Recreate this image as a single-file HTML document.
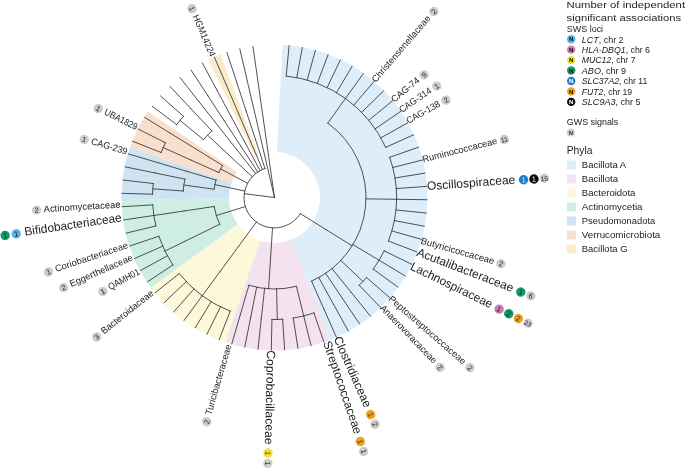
<!DOCTYPE html>
<html><head><meta charset="utf-8"><style>
html,body{margin:0;padding:0;background:#fff;}
svg{display:block;will-change:transform;font-family:"Liberation Sans",sans-serif;}

</style></head><body>
<svg width="685" height="469" viewBox="0 0 685 469" fill="#222">
<rect width="685" height="469" fill="#fff"/>
<path d="M282.48 44.71A153 153 0 0 1 330.3 339.96L291.09 239.87A45.5 45.5 0 0 0 276.87 152.06Z" fill="#ddedf9"/>
<path d="M330.3 339.96A153 153 0 0 1 225.27 342.36L259.86 240.58A45.5 45.5 0 0 0 291.09 239.87Z" fill="#f4e2ee"/>
<path d="M225.27 342.36A153 153 0 0 1 150.86 287.63L237.73 224.3A45.5 45.5 0 0 0 259.86 240.58Z" fill="#fdf8da"/>
<path d="M150.86 287.63A153 153 0 0 1 121.52 200.04L229.01 198.25A45.5 45.5 0 0 0 237.73 224.3Z" fill="#cfeee3"/>
<path d="M121.52 200.04A153 153 0 0 1 129.95 147.36L231.51 182.59A45.5 45.5 0 0 0 229.01 198.25Z" fill="#cfe4f1"/>
<path d="M129.95 147.36A153 153 0 0 1 147.94 111.52L236.86 171.93A45.5 45.5 0 0 0 231.51 182.59Z" fill="#f9dfcd"/>
<path d="M208.17 59.62A153 153 0 0 1 220.49 54.35L258.44 154.93A45.5 45.5 0 0 0 254.78 156.5Z" fill="#fbeacb"/>
<path d="M274.5 197.5L244.24 193.66M300.39 213.62A30.5 30.5 0 1 1 264.99 168.52M300.39 213.62L326.29 229.74M326.29 229.74L352.18 245.85M327.79 123.12A91.5 91.5 0 0 1 311.57 281.15M327.79 123.12L345.55 98.33M286.19 76.06A122 122 0 0 1 385.73 147.37M286.19 76.06L289.12 45.7M296.77 77.55L302.34 47.56M307.19 79.96L315.36 50.57M317.34 83.27L328.06 54.71M327.18 87.46L340.35 59.95M336.6 92.49L352.13 66.24M345.55 98.33L363.32 73.53M353.96 104.92L373.82 81.78M361.76 112.23L383.57 90.92M368.88 120.19L392.48 100.87M375.28 128.75L400.48 111.56M380.91 137.83L407.52 122.92M385.73 147.37L413.53 134.84M365.99 198.84L396.49 199.29M389.69 157.3A122 122 0 0 1 388.46 241.06M389.69 157.3L418.48 147.25M392.76 167.53L422.33 160.04M394.93 177.99L425.04 173.12M396.18 188.61L426.59 186.38M396.49 199.29L426.98 199.74M395.86 209.96L426.2 213.07M394.31 220.53L424.26 226.28M391.83 230.92L421.17 239.28M388.46 241.06L416.95 251.95M352.96 244.57L379.12 260.26M384.21 250.87A122 122 0 0 1 373.23 269.18M384.21 250.87L411.64 264.21M379.12 260.26L405.27 275.95M373.23 269.18L397.91 287.09M340.86 260.5L362.98 281.49M366.57 277.54A122 122 0 0 1 359.22 285.29M366.57 277.54L389.59 297.55M359.22 285.29L380.4 307.24M332.03 268.65L351.21 292.37M351.21 292.37L370.39 316.08M325.59 273.41L342.62 298.71M342.62 298.71L359.64 324.02M318.75 277.59L333.5 304.29M333.5 304.29L348.25 330.98M311.57 281.15L323.93 309.04M323.93 309.04L336.28 336.92M272.53 227.94L270.55 258.37M270.55 258.37L268.58 288.81M296.42 286.34A91.5 91.5 0 0 1 248.88 285.34M296.42 286.34L303.73 315.95M313.98 312.94A122 122 0 0 1 293.25 318.05M313.98 312.94L323.85 341.8M303.73 315.95L311.03 345.56M293.25 318.05L297.94 348.19M276.59 288.98L277.29 319.47M282.63 319.23A122 122 0 0 1 271.95 319.47M282.63 319.23L284.66 349.66M271.95 319.47L271.31 349.97M264.59 288.46L261.28 318.78M261.28 318.78L257.98 349.1M256.66 287.24L250.72 317.16M250.72 317.16L244.77 347.07M248.88 285.34L240.34 314.62M240.34 314.62L231.8 343.9M256.43 222.07L238.35 246.64M238.35 246.64L220.28 271.2M220.28 271.2L202.21 295.77M230.22 311.18A122 122 0 0 1 179.15 273.61M230.22 311.18L219.15 339.6M220.45 306.87L206.93 334.21M211.08 301.72L195.23 327.78M202.21 295.77L184.13 320.34M193.88 289.07L173.73 311.96M186.18 281.66L164.1 302.71M179.15 273.61L155.32 292.64M245.37 206.55L216.25 215.6M219.7 224.29A61 61 0 0 1 214.17 206.5M219.7 224.29L192.3 237.68M192.3 237.68L164.89 251.08M172.86 264.98A122 122 0 0 1 158.82 236.25M172.86 264.98L147.45 281.85M167.35 255.83L140.56 270.41M162.65 246.23L134.69 258.41M158.82 236.25L129.9 245.94M214.17 206.5L184 210.99M184 210.99L153.83 215.49M155.87 225.98A122 122 0 0 1 152.72 204.86M155.87 225.98L126.21 233.1M153.83 215.49L123.67 219.99M152.72 204.86L122.28 206.7M244.69 191.04L214.88 184.58M214.07 189.18A61 61 0 0 1 216.05 180.05M214.07 189.18L183.85 185.03M183.23 191.01A91.5 91.5 0 0 1 184.87 179.1M183.23 191.01L152.81 188.84M152.55 194.18A122 122 0 0 1 153.3 183.52M152.55 194.18L122.06 193.35M153.3 183.52L123 180.02M184.87 179.1L154.99 172.97M154.99 172.97L125.11 166.84M216.05 180.05L186.82 171.33M186.82 171.33L157.6 162.61M157.6 162.61L128.37 153.88M247.55 183.22L220.6 168.94M218.84 172.54A61 61 0 0 1 222.59 165.46M218.84 172.54L191.01 160.06M191.01 160.06L163.18 147.59M161.1 152.51A122 122 0 0 1 165.47 142.76M161.1 152.51L132.75 141.26M165.47 142.76L138.21 129.07M222.59 165.46L196.63 149.45M196.63 149.45L170.68 133.43M170.68 133.43L144.72 117.41M252.18 176.71L229.87 155.92M229.87 155.92L207.55 135.13M203.6 139.66A91.5 91.5 0 0 1 211.79 130.86M203.6 139.66L179.97 120.38M176.68 124.59A122 122 0 0 1 183.44 116.31M176.68 124.59L152.23 106.36M183.44 116.31L160.67 96.01M211.79 130.86L190.89 108.65M190.89 108.65L169.99 86.44M255.62 173.54L236.74 149.59M236.74 149.59L217.87 125.63M217.87 125.63L198.99 101.68M198.99 101.68L180.11 77.72M257.79 171.98L241.08 146.47M241.08 146.47L224.37 120.95M224.37 120.95L207.66 95.44M207.66 95.44L190.95 69.92M260.09 170.62L245.67 143.74M245.67 143.74L231.26 116.86M231.26 116.86L216.85 89.98M216.85 89.98L202.44 63.1M262.49 169.46L250.49 141.42M250.49 141.42L238.48 113.39M238.48 113.39L226.48 85.35M226.48 85.35L214.47 57.31M264.99 168.52L255.49 139.54M255.49 139.54L245.98 110.56M245.98 110.56L236.48 81.58M236.48 81.58L226.97 52.6M274.5 197.5L239.83 48.99M274.5 197.5L252.96 46.53" fill="none" stroke="#333" stroke-width="0.85" stroke-linecap="square"/>
<text transform="translate(373.87 81.42) rotate(-49.36)" text-anchor="start" dy="2.51" font-size="9.3" textLength="85" lengthAdjust="spacingAndGlyphs">Christensenellaceae</text>
<g transform="translate(433.92 11.46) rotate(-49.36)"><circle r="4.7" fill="#cdcdcd"/><text text-anchor="middle" dy="2.6" font-size="7.4" fill="#222">2</text></g>
<text transform="translate(392.71 100.68) rotate(-39.32)" text-anchor="start" dy="2.51" font-size="9.3" textLength="33.5" lengthAdjust="spacingAndGlyphs">CAG-74</text>
<g transform="translate(424.2 74.89) rotate(-39.32)"><circle r="4.7" fill="#cdcdcd"/><text text-anchor="middle" dy="2.6" font-size="7.4" fill="#222">9</text></g>
<text transform="translate(400.39 110.9) rotate(-34.3)" text-anchor="start" dy="2.51" font-size="9.3" textLength="36.8" lengthAdjust="spacingAndGlyphs">CAG-314</text>
<g transform="translate(436.74 86.1) rotate(-34.3)"><circle r="4.7" fill="#cdcdcd"/><text text-anchor="middle" dy="2.6" font-size="7.4" fill="#222">1</text></g>
<text transform="translate(407.24 121.81) rotate(-29.28)" text-anchor="start" dy="2.51" font-size="9.3" textLength="37.2" lengthAdjust="spacingAndGlyphs">CAG-138</text>
<g transform="translate(445.97 100.09) rotate(-29.28)"><circle r="4.7" fill="#cdcdcd"/><text text-anchor="middle" dy="2.6" font-size="7.4" fill="#222">2</text></g>
<text transform="translate(422.64 160.06) rotate(-14.22)" text-anchor="start" dy="2.51" font-size="9.3" textLength="77" lengthAdjust="spacingAndGlyphs">Ruminococcaceae</text>
<g transform="translate(504.26 139.38) rotate(-14.22)"><circle r="4.7" fill="#cdcdcd"/><text text-anchor="middle" dy="2.6" font-size="6.6" fill="#222">11</text></g>
<text transform="translate(426.93 186.86) rotate(-4.18)" text-anchor="start" dy="3.24" font-size="12" textLength="88.6" lengthAdjust="spacingAndGlyphs">Oscillospiraceae</text>
<g transform="translate(523.57 179.8) rotate(-4.18)"><circle r="4.7" fill="#1f7fc6"/><text text-anchor="middle" dy="2.6" font-size="7.4" fill="#cfe6f7">1</text></g>
<g transform="translate(533.94 179.04) rotate(-4.18)"><circle r="4.7" fill="#0a0a0a"/><text text-anchor="middle" dy="2.6" font-size="7.4" fill="#fff">1</text></g>
<g transform="translate(544.32 178.28) rotate(-4.18)"><circle r="4.7" fill="#cdcdcd"/><text text-anchor="middle" dy="2.6" font-size="6.6" fill="#222">15</text></g>
<text transform="translate(420.99 241) rotate(15.9)" text-anchor="start" dy="2.51" font-size="9.3" textLength="75.9" lengthAdjust="spacingAndGlyphs">Butyricicoccaceae</text>
<g transform="translate(500.91 263.76) rotate(15.9)"><circle r="4.7" fill="#cdcdcd"/><text text-anchor="middle" dy="2.6" font-size="7.4" fill="#222">2</text></g>
<text transform="translate(417.1 252.39) rotate(20.92)" text-anchor="start" dy="3.24" font-size="12" textLength="102.7" lengthAdjust="spacingAndGlyphs">Acutalibacteraceae</text>
<g transform="translate(520.79 292.02) rotate(20.92)"><circle r="4.7" fill="#159a6c"/><text text-anchor="middle" dy="2.6" font-size="7.4" fill="#0a2a1a">1</text></g>
<g transform="translate(530.87 295.88) rotate(20.92)"><circle r="4.7" fill="#cdcdcd"/><text text-anchor="middle" dy="2.6" font-size="7.4" fill="#222">6</text></g>
<text transform="translate(410.99 266.23) rotate(25.94)" text-anchor="start" dy="3.24" font-size="12" textLength="89.7" lengthAdjust="spacingAndGlyphs">Lachnospiraceae</text>
<g transform="translate(499.11 309.1) rotate(25.94)"><circle r="4.7" fill="#cc7ab8"/><text text-anchor="middle" dy="2.6" font-size="7.4" fill="#222">1</text></g>
<g transform="translate(508.74 313.78) rotate(25.94)"><circle r="4.7" fill="#159a6c"/><text text-anchor="middle" dy="2.6" font-size="7.4" fill="#0a2a1a">2</text></g>
<g transform="translate(518.36 318.46) rotate(25.94)"><circle r="4.7" fill="#eea21e"/><text text-anchor="middle" dy="2.6" font-size="7.4" fill="#333">2</text></g>
<g transform="translate(527.98 323.14) rotate(25.94)"><circle r="4.7" fill="#cdcdcd"/><text text-anchor="middle" dy="2.6" font-size="6.6" fill="#222">23</text></g>
<text transform="translate(389.62 297.97) rotate(41)" text-anchor="start" dy="2.51" font-size="9.3" textLength="99.2" lengthAdjust="spacingAndGlyphs">Peptostreptococcaceae</text>
<g transform="translate(469.92 367.78) rotate(41)"><circle r="4.7" fill="#cdcdcd"/><text text-anchor="middle" dy="2.6" font-size="7.4" fill="#222">2</text></g>
<text transform="translate(381.4 306.69) rotate(46.02)" text-anchor="start" dy="2.51" font-size="9.3" textLength="77.3" lengthAdjust="spacingAndGlyphs">Anaerovoracaceae</text>
<g transform="translate(440.07 367.49) rotate(46.02)"><circle r="4.7" fill="#cdcdcd"/><text text-anchor="middle" dy="2.6" font-size="7.4" fill="#222">2</text></g>
<text transform="translate(336.41 337.2) rotate(66.1)" text-anchor="start" dy="3.24" font-size="12" textLength="76.3" lengthAdjust="spacingAndGlyphs">Clostridiaceae</text>
<g transform="translate(370.68 414.54) rotate(66.1)"><circle r="4.7" fill="#eea21e"/><text text-anchor="middle" dy="2.6" font-size="7.4" fill="#333">1</text></g>
<g transform="translate(374.98 424.23) rotate(66.1)"><circle r="4.7" fill="#cdcdcd"/><text text-anchor="middle" dy="2.6" font-size="7.4" fill="#222">2</text></g>
<text transform="translate(326.03 341.37) rotate(71.12)" text-anchor="start" dy="3.24" font-size="12" textLength="97.6" lengthAdjust="spacingAndGlyphs">Streptococcaceae</text>
<g transform="translate(360.29 441.57) rotate(71.12)"><circle r="4.7" fill="#eea21e"/><text text-anchor="middle" dy="2.6" font-size="7.4" fill="#333">1</text></g>
<g transform="translate(363.66 451.41) rotate(71.12)"><circle r="4.7" fill="#cdcdcd"/><text text-anchor="middle" dy="2.6" font-size="7.4" fill="#222">1</text></g>
<text transform="translate(270.2 350.24) rotate(91.2)" text-anchor="start" dy="3.24" font-size="12" textLength="94.5" lengthAdjust="spacingAndGlyphs">Coprobacillaceae</text>
<g transform="translate(268.05 453.02) rotate(91.2)"><circle r="4.7" fill="#f2e23c"/><text text-anchor="middle" dy="2.6" font-size="7.4" fill="#333">1</text></g>
<g transform="translate(267.83 463.42) rotate(91.2)"><circle r="4.7" fill="#cdcdcd"/><text text-anchor="middle" dy="2.6" font-size="7.4" fill="#222">1</text></g>
<text transform="translate(229.12 344.89) rotate(286.26)" text-anchor="end" dy="2.51" font-size="9.3" textLength="72.8" lengthAdjust="spacingAndGlyphs">Turicibacteraceae</text>
<g transform="translate(206.72 421.69) rotate(286.26)"><circle r="4.7" fill="#cdcdcd"/><text text-anchor="middle" dy="2.6" font-size="7.4" fill="#222">2</text></g>
<text transform="translate(152.8 292.22) rotate(321.4)" text-anchor="end" dy="2.51" font-size="9.3" textLength="64.6" lengthAdjust="spacingAndGlyphs">Bacteroidaceae</text>
<g transform="translate(96.69 337.01) rotate(321.4)"><circle r="4.7" fill="#cdcdcd"/><text text-anchor="middle" dy="2.6" font-size="7.4" fill="#222">3</text></g>
<text transform="translate(139.25 271.57) rotate(331.44)" text-anchor="end" dy="2.51" font-size="9.3" textLength="34.3" lengthAdjust="spacingAndGlyphs">QAMH01</text>
<g transform="translate(102.8 291.41) rotate(331.44)"><circle r="4.7" fill="#cdcdcd"/><text text-anchor="middle" dy="2.6" font-size="7.4" fill="#222">1</text></g>
<text transform="translate(132.49 257.62) rotate(336.46)" text-anchor="end" dy="2.51" font-size="9.3" textLength="67.9" lengthAdjust="spacingAndGlyphs">Eggerthellaceae</text>
<g transform="translate(63.64 287.61) rotate(336.46)"><circle r="4.7" fill="#cdcdcd"/><text text-anchor="middle" dy="2.6" font-size="7.4" fill="#222">2</text></g>
<text transform="translate(127.9 245.34) rotate(341.48)" text-anchor="end" dy="2.51" font-size="9.3" textLength="76.5" lengthAdjust="spacingAndGlyphs">Coriobacteriaceae</text>
<g transform="translate(48.54 271.93) rotate(341.48)"><circle r="4.7" fill="#cdcdcd"/><text text-anchor="middle" dy="2.6" font-size="7.4" fill="#222">1</text></g>
<text transform="translate(121.66 218.06) rotate(351.52)" text-anchor="end" dy="3.24" font-size="12" textLength="98.3" lengthAdjust="spacingAndGlyphs">Bifidobacteriaceae</text>
<g transform="translate(16.23 233.78) rotate(351.52)"><circle r="4.7" fill="#5ab2e6"/><text text-anchor="middle" dy="2.6" font-size="7.4" fill="#111">1</text></g>
<g transform="translate(5.15 235.43) rotate(351.52)"><circle r="4.7" fill="#159a6c"/><text text-anchor="middle" dy="2.6" font-size="7.4" fill="#0a2a1a">1</text></g>
<text transform="translate(120.47 205.01) rotate(356.54)" text-anchor="end" dy="2.51" font-size="9.3" textLength="76.9" lengthAdjust="spacingAndGlyphs">Actinomycetaceae</text>
<g transform="translate(36.53 210.09) rotate(356.54)"><circle r="4.7" fill="#cdcdcd"/><text text-anchor="middle" dy="2.6" font-size="7.4" fill="#222">2</text></g>
<text transform="translate(127.09 152.25) rotate(376.62)" text-anchor="end" dy="2.51" font-size="9.3" textLength="37.5" lengthAdjust="spacingAndGlyphs">CAG-239</text>
<g transform="translate(84.25 139.46) rotate(376.62)"><circle r="4.7" fill="#cdcdcd"/><text text-anchor="middle" dy="2.6" font-size="7.4" fill="#222">1</text></g>
<text transform="translate(136.87 127.95) rotate(386.66)" text-anchor="end" dy="2.51" font-size="9.3" textLength="36.1" lengthAdjust="spacingAndGlyphs">UBA1829</text>
<g transform="translate(98.18 108.53) rotate(386.66)"><circle r="4.7" fill="#cdcdcd"/><text text-anchor="middle" dy="2.6" font-size="7.4" fill="#222">1</text></g>
<text transform="translate(212.42 56.34) rotate(426.82)" text-anchor="end" dy="2.51" font-size="9.3" textLength="44.7" lengthAdjust="spacingAndGlyphs">HGM14224</text>
<g transform="translate(192 8.63) rotate(426.82)"><circle r="4.7" fill="#cdcdcd"/><text text-anchor="middle" dy="2.6" font-size="7.4" fill="#222">1</text></g>
<text x="566.6" y="8.0" font-size="9.7" textLength="118.5" lengthAdjust="spacingAndGlyphs">Number of independent</text>
<text x="566.6" y="20.5" font-size="9.9" textLength="114.5" lengthAdjust="spacingAndGlyphs">significant associations</text>
<text x="566.8" y="31.6" font-size="8.5" textLength="36.3" lengthAdjust="spacingAndGlyphs">SWS loci</text>
<circle cx="571.2" cy="39.2" r="4.2" fill="#5ab2e6"/>
<text x="571.2" y="41.4" font-size="6.2" font-weight="bold" text-anchor="middle" fill="#111">N</text>
<text x="581.8" y="42.5" font-size="9" textLength="41.8" lengthAdjust="spacingAndGlyphs"><tspan font-style="italic">LCT</tspan>, chr 2</text>
<circle cx="571.2" cy="49.65" r="4.2" fill="#cc7ab8"/>
<text x="571.2" y="51.85" font-size="6.2" font-weight="bold" text-anchor="middle" fill="#111">N</text>
<text x="581.8" y="52.95" font-size="9" textLength="68.2" lengthAdjust="spacingAndGlyphs"><tspan font-style="italic">HLA-DBQ1</tspan>, chr 6</text>
<circle cx="571.2" cy="60.1" r="4.2" fill="#f2e23c"/>
<text x="571.2" y="62.3" font-size="6.2" font-weight="bold" text-anchor="middle" fill="#111">N</text>
<text x="581.8" y="63.4" font-size="9" textLength="53.7" lengthAdjust="spacingAndGlyphs"><tspan font-style="italic">MUC12</tspan>, chr 7</text>
<circle cx="571.2" cy="70.55" r="4.2" fill="#159a6c"/>
<text x="571.2" y="72.75" font-size="6.2" font-weight="bold" text-anchor="middle" fill="#111">N</text>
<text x="581.8" y="73.85" font-size="9" textLength="44.3" lengthAdjust="spacingAndGlyphs"><tspan font-style="italic">ABO</tspan>, chr 9</text>
<circle cx="571.2" cy="81" r="4.2" fill="#1f7fc6"/>
<text x="571.2" y="83.2" font-size="6.2" font-weight="bold" text-anchor="middle" fill="#fff">N</text>
<text x="581.8" y="84.3" font-size="9" textLength="65.6" lengthAdjust="spacingAndGlyphs"><tspan font-style="italic">SLC37A2</tspan>, chr 11</text>
<circle cx="571.2" cy="91.45" r="4.2" fill="#eea21e"/>
<text x="571.2" y="93.65" font-size="6.2" font-weight="bold" text-anchor="middle" fill="#111">N</text>
<text x="581.8" y="94.75" font-size="9" textLength="50.3" lengthAdjust="spacingAndGlyphs"><tspan font-style="italic">FUT2</tspan>, chr 19</text>
<circle cx="571.2" cy="101.9" r="4.2" fill="#0a0a0a"/>
<text x="571.2" y="104.1" font-size="6.2" font-weight="bold" text-anchor="middle" fill="#fff">N</text>
<text x="581.8" y="105.2" font-size="9" textLength="58.8" lengthAdjust="spacingAndGlyphs"><tspan font-style="italic">SLC9A3</tspan>, chr 5</text>
<text x="566.8" y="124.8" font-size="9" textLength="51.5" lengthAdjust="spacingAndGlyphs">GWS signals</text>
<circle cx="570.8" cy="132.5" r="4.0" fill="#cdcdcd"/><text x="570.8" y="134.6" font-size="6" font-weight="bold" text-anchor="middle" fill="#333">N</text>
<text x="566.8" y="154" font-size="10.4" textLength="25.6" lengthAdjust="spacingAndGlyphs">Phyla</text>
<rect x="566.9" y="160.5" width="9" height="9" fill="#ddedf9"/>
<text x="581.8" y="167.8" font-size="9.3" textLength="44.4" lengthAdjust="spacingAndGlyphs">Bacillota A</text>
<rect x="566.9" y="174.5" width="9" height="9" fill="#f4e2ee"/>
<text x="581.8" y="181.8" font-size="9.3" textLength="36.2" lengthAdjust="spacingAndGlyphs">Bacillota</text>
<rect x="566.9" y="188.5" width="9" height="9" fill="#fdf8da"/>
<text x="581.8" y="195.8" font-size="9.3" textLength="53.6" lengthAdjust="spacingAndGlyphs">Bacteroidota</text>
<rect x="566.9" y="202.5" width="9" height="9" fill="#cfeee3"/>
<text x="581.8" y="209.8" font-size="9.3" textLength="60.7" lengthAdjust="spacingAndGlyphs">Actinomycetia</text>
<rect x="566.9" y="216.5" width="9" height="9" fill="#cfe4f1"/>
<text x="581.8" y="223.8" font-size="9.3" textLength="73.4" lengthAdjust="spacingAndGlyphs">Pseudomonadota</text>
<rect x="566.9" y="230.5" width="9" height="9" fill="#f9dfcd"/>
<text x="581.8" y="237.8" font-size="9.3" textLength="78.5" lengthAdjust="spacingAndGlyphs">Verrucomicrobiota</text>
<rect x="566.9" y="244.5" width="9" height="9" fill="#fbeacb"/>
<text x="581.8" y="251.8" font-size="9.3" textLength="45.7" lengthAdjust="spacingAndGlyphs">Bacillota G</text>
</svg>
</body></html>
